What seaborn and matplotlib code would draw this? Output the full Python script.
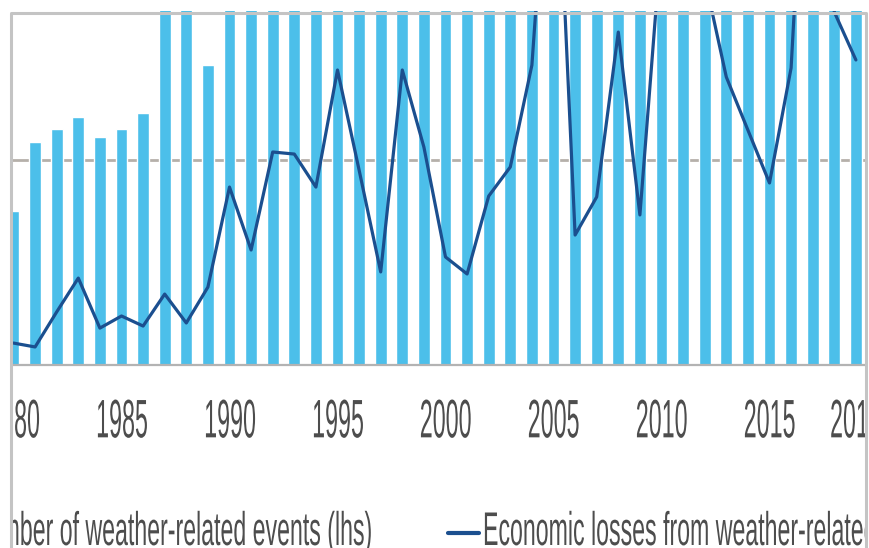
"""
Weather-related events (bars, lhs) vs economic losses (line, rhs), 1980-2019.

Recreates a cropped, horizontally squashed screenshot of the chart, so the
text is drawn compressed and everything outside the grey frame is masked.
"""

import pandas as pd
import seaborn as sns
import matplotlib.pyplot as plt
from matplotlib import patheffects
from matplotlib.lines import Line2D
from matplotlib.patches import Rectangle
from matplotlib.transforms import Affine2D

years = list(range(1980, 2020))

# number of weather-related events (lhs); years above ~520 run off the top
events = [225, 326, 345, 363, 334, 345, 369, 560, 540, 439,
          580, 560, 600, 610, 590, 640, 620, 600, 660, 680,
          700, 690, 720, 700, 740, 760, 750, 800, 780, 790,
          880, 820, 840, 850, 870, 900, 850, 880, 860, 850]

# economic losses from weather-related events (rhs)
losses = [10.7, 8.8, 25.9, 42.4, 18.0, 23.9, 19.0, 34.6, 20.5, 38.0,
          86.8, 56.1, 103.9, 102.9, 86.8, 143.9, 95.1, 45.4, 143.9, 106.3,
          52.7, 44.4, 82.4, 96.6, 146.3, 295.0, 63.4, 82.0, 162.4, 73.2,
          208.0, 217.0, 188.8, 140.5, 114.6, 88.8, 144.9, 335.6, 172.2, 148.8]

tick_years = [1980, 1985, 1990, 1995, 2000, 2005, 2010, 2015, 2019]
tick_labels = [str(y) for y in tick_years]

legend_labels = ["Number of weather-related events (lhs)",
                 "Economic losses from weather-related events (rhs)"]

BAR_COLOR = "#4cbfea"
LINE_COLOR = "#1b4f8f"
TEXT_COLOR = "#4d4d4d"
GRID_COLOR = "#b5b0aa"
FRAME_COLOR = "#c4c4c4"

W, H = 869, 548          # output size in pixels
BASE_Y = 365             # pixel row of the x axis
GRID_Y = 160             # pixel row of the single gridline
X1980, PX_PER_YEAR = 13.5, 21.6
LHS_GRID, RHS_GRID = 300, 100


class Squeeze(patheffects.AbstractPathEffect):
    """Compress text horizontally, around its centre or its start."""

    def __init__(self, sx, centre=True):
        super().__init__()
        self.sx = sx
        self.centre = centre

    def draw_path(self, renderer, gc, tpath, affine, rgbFace=None):
        ext = tpath.get_extents()
        x0 = (ext.x0 + ext.x1) / 2 if self.centre else 0.0
        squash = Affine2D().translate(-x0, 0).scale(self.sx, 1).translate(x0, 0)
        renderer.draw_path(gc, tpath, squash + affine, rgbFace)


sns.set_style("white")
plt.rcParams["font.family"] = ["Liberation Sans", "DejaVu Sans"]

df = pd.DataFrame({"year": years, "events": events, "losses": losses})

fig = plt.figure(figsize=(W / 100, H / 100), dpi=100)
ax = fig.add_axes([0, 1 - BASE_Y / H, 1, BASE_Y / H])

sns.barplot(data=df, x="year", y="events", native_scale=True, width=0.555,
            color=BAR_COLOR, saturation=1, errorbar=None, ax=ax)

ax2 = ax.twinx()
sns.lineplot(data=df, x="year", y="losses", color=LINE_COLOR, linewidth=2.3, ax=ax2)

# scales: pixel geometry of the screenshot
ax.set_xlim(1980 - X1980 / PX_PER_YEAR, 1980 + (W - X1980) / PX_PER_YEAR)
span = BASE_Y / (BASE_Y - GRID_Y)
ax.set_ylim(0, LHS_GRID * span)
ax2.set_ylim(0, RHS_GRID * span)

ax.set_yticks([LHS_GRID])
ax.tick_params(axis="y", left=False, labelleft=False)
ax.yaxis.grid(True, color=GRID_COLOR, linewidth=2)
ax.xaxis.grid(False)
ax.set_axisbelow(True)
ax2.set_yticks([])

ax.set_xticks(tick_years, tick_labels)
ax.tick_params(axis="x", length=0, pad=24, labelsize=39, labelcolor=TEXT_COLOR)
for lab in ax.get_xticklabels():
    lab.set_path_effects([Squeeze(0.43)])

ax.set_xlabel("")
ax.set_ylabel("")
ax2.set_ylabel("")
for side in ["left", "right", "top"]:
    ax.spines[side].set_visible(False)
ax.spines["bottom"].set_color("#b3b3b3")
ax.spines["bottom"].set_linewidth(1.6)
for s in ax2.spines.values():
    s.set_visible(False)

# legend row (cut off by the frame, as in the screenshot)
text_y = 1 - 545 / H
fig.text(-29 / W, text_y, legend_labels[0], fontsize=34, color=TEXT_COLOR,
         ha="left", va="baseline", path_effects=[Squeeze(0.49, centre=False)])
fig.add_artist(Line2D([448 / W, 479 / W], [1 - 533 / H] * 2,
                      transform=fig.transFigure, color=LINE_COLOR, linewidth=3))
fig.text(483 / W, text_y, legend_labels[1], fontsize=34, color=TEXT_COLOR,
         ha="left", va="baseline", path_effects=[Squeeze(0.49, centre=False)])

# white outside the frame, then the grey frame itself
for x, y, w, h in [(0, 0, 10, H), (0, 0, W, 11), (867, 0, W - 867, H)]:
    fig.add_artist(Rectangle((x / W, 1 - (y + h) / H), w / W, h / H,
                             transform=fig.transFigure, facecolor="white",
                             edgecolor="none", zorder=10))
frame_x0, frame_x1, frame_y = 11.3, 865.5, 12.5
fig.add_artist(Line2D([frame_x0 / W, frame_x0 / W, frame_x1 / W, frame_x1 / W],
                      [0, 1 - frame_y / H, 1 - frame_y / H, 0],
                      transform=fig.transFigure, color=FRAME_COLOR,
                      linewidth=2.2, zorder=11))

fig.savefig("out.png", dpi=100)
